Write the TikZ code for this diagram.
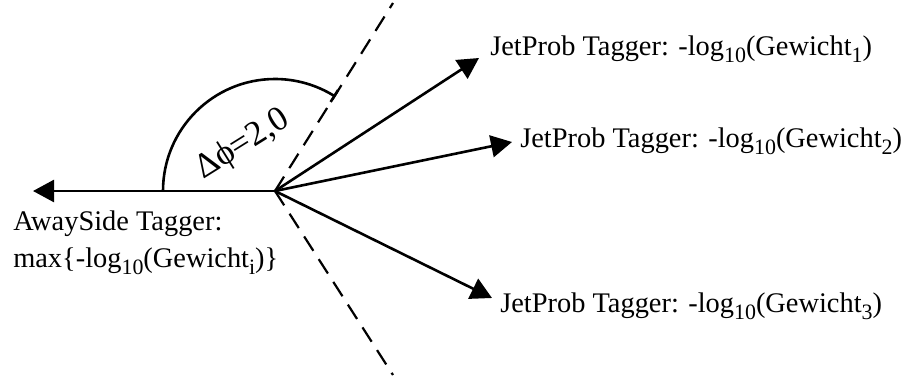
\documentclass[tikz,border=0pt]{standalone}
\usepackage{fontspec}
\setmainfont{Liberation Serif}
\usetikzlibrary{arrows.meta}
\newcommand{\lowidx}[1]{\raisebox{-0.28em}{\fontsize{22}{22}\selectfont #1}}

\begin{document}
\begin{tikzpicture}[x=1bp,y=1bp,line width=2.6bp,>={Triangle[length=21bp,width=22bp]},
  every node/.style={font=\fontsize{28.5}{37}\selectfont,inner sep=0pt}]
\tikzstyle{jet}=[->]
\tikzstyle{cut}=[dash pattern=on 17bp off 10bp,line width=2.2bp]
\useasboundingbox (0,0) rectangle (908,379);
\coordinate (o) at (275,188);
\coordinate (away) at (33,188);
\coordinate (t1) at (479,321);
\coordinate (t2) at (512,237);
\coordinate (t3) at (492,81);
\coordinate (cuttop) at (393,376);
\coordinate (cutbot) at (393,4);
% labels
\node[anchor=base west] (l1) at (489,324) {JetProb Tagger: -log\lowidx{10}(Gewicht\lowidx{1})};
\node[anchor=base west] (l2) at (519,232) {JetProb Tagger: -log\lowidx{10}(Gewicht\lowidx{2})};
\node[anchor=base west] (l3) at (499,67) {JetProb Tagger: -log\lowidx{10}(Gewicht\lowidx{3})};
\node[anchor=base west] (la) at (12,149) {AwaySide Tagger:};
\node[anchor=base west] (lb) at (12,112) {max\{-log\lowidx{10}(Gewicht\lowidx{i})\}};
\node[rotate=32,font=\fontsize{35}{40}\selectfont] (dphi) at (243,234) {Δϕ=2,0};
% vectors
\draw[jet] (o) -- (away);
\draw[jet] (o) -- (t1);
\draw[jet] (o) -- (t2);
\draw[jet] (o) -- (t3);
% cut
\draw[cut] (o) -- (cuttop);
\draw[cut] (o) -- (cutbot);
% angle
\draw (o) ++(180:112) arc[start angle=180,end angle=58,radius=112];
\draw (o) ++(58:105) -- ++(58:14);
\end{tikzpicture}
\end{document}
